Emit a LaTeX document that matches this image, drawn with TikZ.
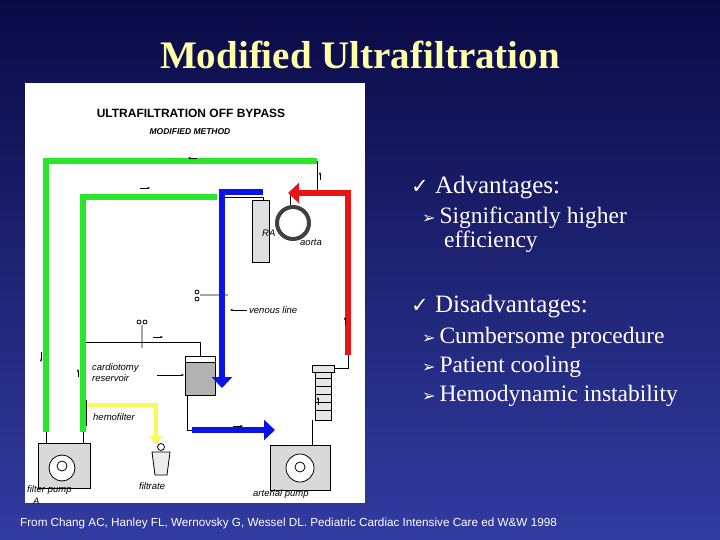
\documentclass[tikz,border=0pt]{standalone}
\usepackage{fontspec}
\setmainfont{Liberation Serif}
\newfontfamily\sansf{Liberation Sans}
\newfontfamily\symf{DejaVu Sans}
\usetikzlibrary{arrows.meta}
\definecolor{bgtop}{RGB}{10,10,70}
\definecolor{bgbot}{RGB}{50,60,160}
\definecolor{ttl}{RGB}{255,255,170}
\definecolor{gr}{RGB}{40,230,40}
\definecolor{bl}{RGB}{10,20,230}
\definecolor{rd}{RGB}{235,20,20}
\definecolor{ye}{RGB}{250,250,80}
\tikzset{
 pipe/.style={line width=6pt},
 ln/.style={line width=0.8pt,draw=black},
 lbl/.style={font=\sansf\itshape\fontsize{9.5}{11}\selectfont,inner sep=0pt,anchor=west},
 sarr/.style={-{Stealth[length=3pt]},line width=0.4pt,draw=black},
 bul/.style={font=\fontsize{25}{27}\selectfont,text=white,anchor=west,inner sep=0pt,align=left},
 sub/.style={font=\fontsize{23.5}{24}\selectfont,text=white,anchor=west,inner sep=0pt,align=left},
 hatch/.style={draw=black,fill=gray!60,line width=0.6pt},
 bigtip/.style={-{Triangle[length=11pt,width=20pt]}}
}
\begin{document}
\begin{tikzpicture}[x=1pt,y=-1pt]
\shade[top color=bgtop,bottom color=bgbot] (0,0) rectangle (720,540);
\useasboundingbox (0,0) rectangle (720,540);
% title
\node[font=\bfseries\fontsize{39}{41}\selectfont,text=ttl] (title) at (360,55) {Modified Ultrafiltration};
% panel
\fill[white] (25,83) rectangle (365,503);
\node[font=\sansf\bfseries\fontsize{12}{13}\selectfont] (hd) at (191,113) {ULTRAFILTRATION OFF BYPASS};
\node[font=\sansf\bfseries\itshape\fontsize{8.5}{9}\selectfont] (hd2) at (190,132) {MODIFIED METHOD};
% black equipment
\draw[ln] (317,161) -- (317,195) -- (290,195) -- (290,205);
\draw[ln] (222,197) -- (263,197) -- (263,225);
\draw[hatch,fill=gray!25] (252,200) rectangle (269,262);
\draw[line width=4pt,draw=black!75] (293,223) circle (16);
\fill[white] (293,226) circle (9);
\node[lbl] (ra) at (262,233) {RA};
\node[lbl] (ao) at (300,242) {aorta};
% venous line label
\coordinate (vl1) at (230,310);
\coordinate (vl2) at (247,310);
\draw[sarr] (vl2) -- (vl1);
\node[lbl] (vl) at (249,310) {venous  line};
% clamp
\draw[ln] (197,292) circle (2) (197,299) circle (2) (200,295) -- (228,295);
\draw[ln] (83,342) -- (200,342) -- (200,358);
\draw[ln] (139,322) circle (2) (145,322) circle (2) (142,325) -- (142,348);
\draw[sarr] (153,337) -- (163,337);
% reservoir
\draw[hatch,fill=white] (185,356) rectangle (215,362);
\draw[hatch] (185,362) rectangle (215,395);
\draw[ln] (187,395) -- (187,430) -- (192,430);
\node[lbl,align=left] (cr) at (92,373) {cardiotomy\\reservoir};
\draw[sarr] (157,375) -- (184,375);
% oxygenator
\draw[hatch,fill=gray!20] (312,365) rectangle (334,372);
\draw[hatch,fill=gray!20] (315,372) rectangle (331,420);
\foreach \yy in {378,386,394,402,410}{\draw[ln] (315,\yy) -- (331,\yy);}
\draw[ln] (334,368) -- (348,368) -- (348,355);
\draw[ln] (312,445) -- (312,420);
\draw[sarr] (318,405) -- (318,397);
% filter pump
\draw[hatch,fill=gray!30] (38,443) rectangle (90,488);
\draw[ln,fill=white] (62,468) circle (13);
\draw[ln] (62,466) circle (5);
\draw[ln] (46,432) -- (46,443) (83,432) -- (83,443);
\node[lbl] (fp) at (27,490) {filter   pump};
\node[lbl] at (33,501) {A};
% hemofilter
\draw[ln] (80,400) rectangle (86,425);
\node[lbl] (hf) at (93,417) {hemofilter};
% filtrate
\draw[ln,fill=gray!15] (152,452) -- (170,452) -- (167,475) -- (155,475) -- cycle;
\draw[ln] (161,447) circle (3.5);
\node[lbl] (ft) at (139,486) {filtrate};
% arterial pump
\draw[hatch,fill=gray!30] (270,445) rectangle (330,490);
\draw[ln,fill=white] (300,468) circle (14);
\draw[ln] (300,467) circle (5);
\node[lbl] (ap) at (253,494) {arterial   pump};
% colored pipes
\draw[pipe,gr] (46,432) -- (46,161) -- (317,161);
\draw[pipe,gr] (83,432) -- (83,197) -- (217,197);
\draw[pipe,bl,bigtip] (263,192) -- (222,192) -- (222,388);
\draw[pipe,bl,bigtip] (192,430) -- (275,430);
\draw[pipe,rd,bigtip] (348,355) -- (348,193) -- (288,193);
\draw[line width=4pt,ye,-{Triangle[length=8pt,width=12pt]}] (88,405) -- (156,405) -- (156,444);
% small arrows
\draw[sarr] (197,158) -- (188,158);
\draw[sarr] (140,188) -- (150,188);
\draw[sarr] (320,180) -- (320,172);
\draw[sarr] (41,352) -- (41,362);
\draw[sarr] (78,377) -- (78,369);
\draw[sarr] (233,426) -- (243,426);
\draw[sarr] (345,325) -- (345,317);
% bullets
\node[bul] (a) at (411,188) {{\symf\fontsize{21}{22}\selectfont ✓} Advantages:};
\node[sub] (a1) at (422,230) {{\symf\fontsize{16}{18}\selectfont ➢}\,Significantly higher\\\hspace*{22pt}efficiency};
\node[bul] (d) at (411,307) {{\symf\fontsize{21}{22}\selectfont ✓} Disadvantages:};
\node[sub] (d1) at (422,338) {{\symf\fontsize{16}{18}\selectfont ➢}\,Cumbersome procedure};
\node[sub] (d2) at (422,367) {{\symf\fontsize{16}{18}\selectfont ➢}\,Patient cooling};
\node[sub] (d3) at (422,396) {{\symf\fontsize{16}{18}\selectfont ➢}\,Hemodynamic instability};
\node[font=\sansf\fontsize{11.7}{12}\selectfont,text=white,anchor=west,inner sep=0pt] (ft2) at (20,523) {From Chang AC, Hanley FL, Wernovsky G, Wessel DL. Pediatric Cardiac Intensive Care ed W\&W 1998};
\end{tikzpicture}
\end{document}
